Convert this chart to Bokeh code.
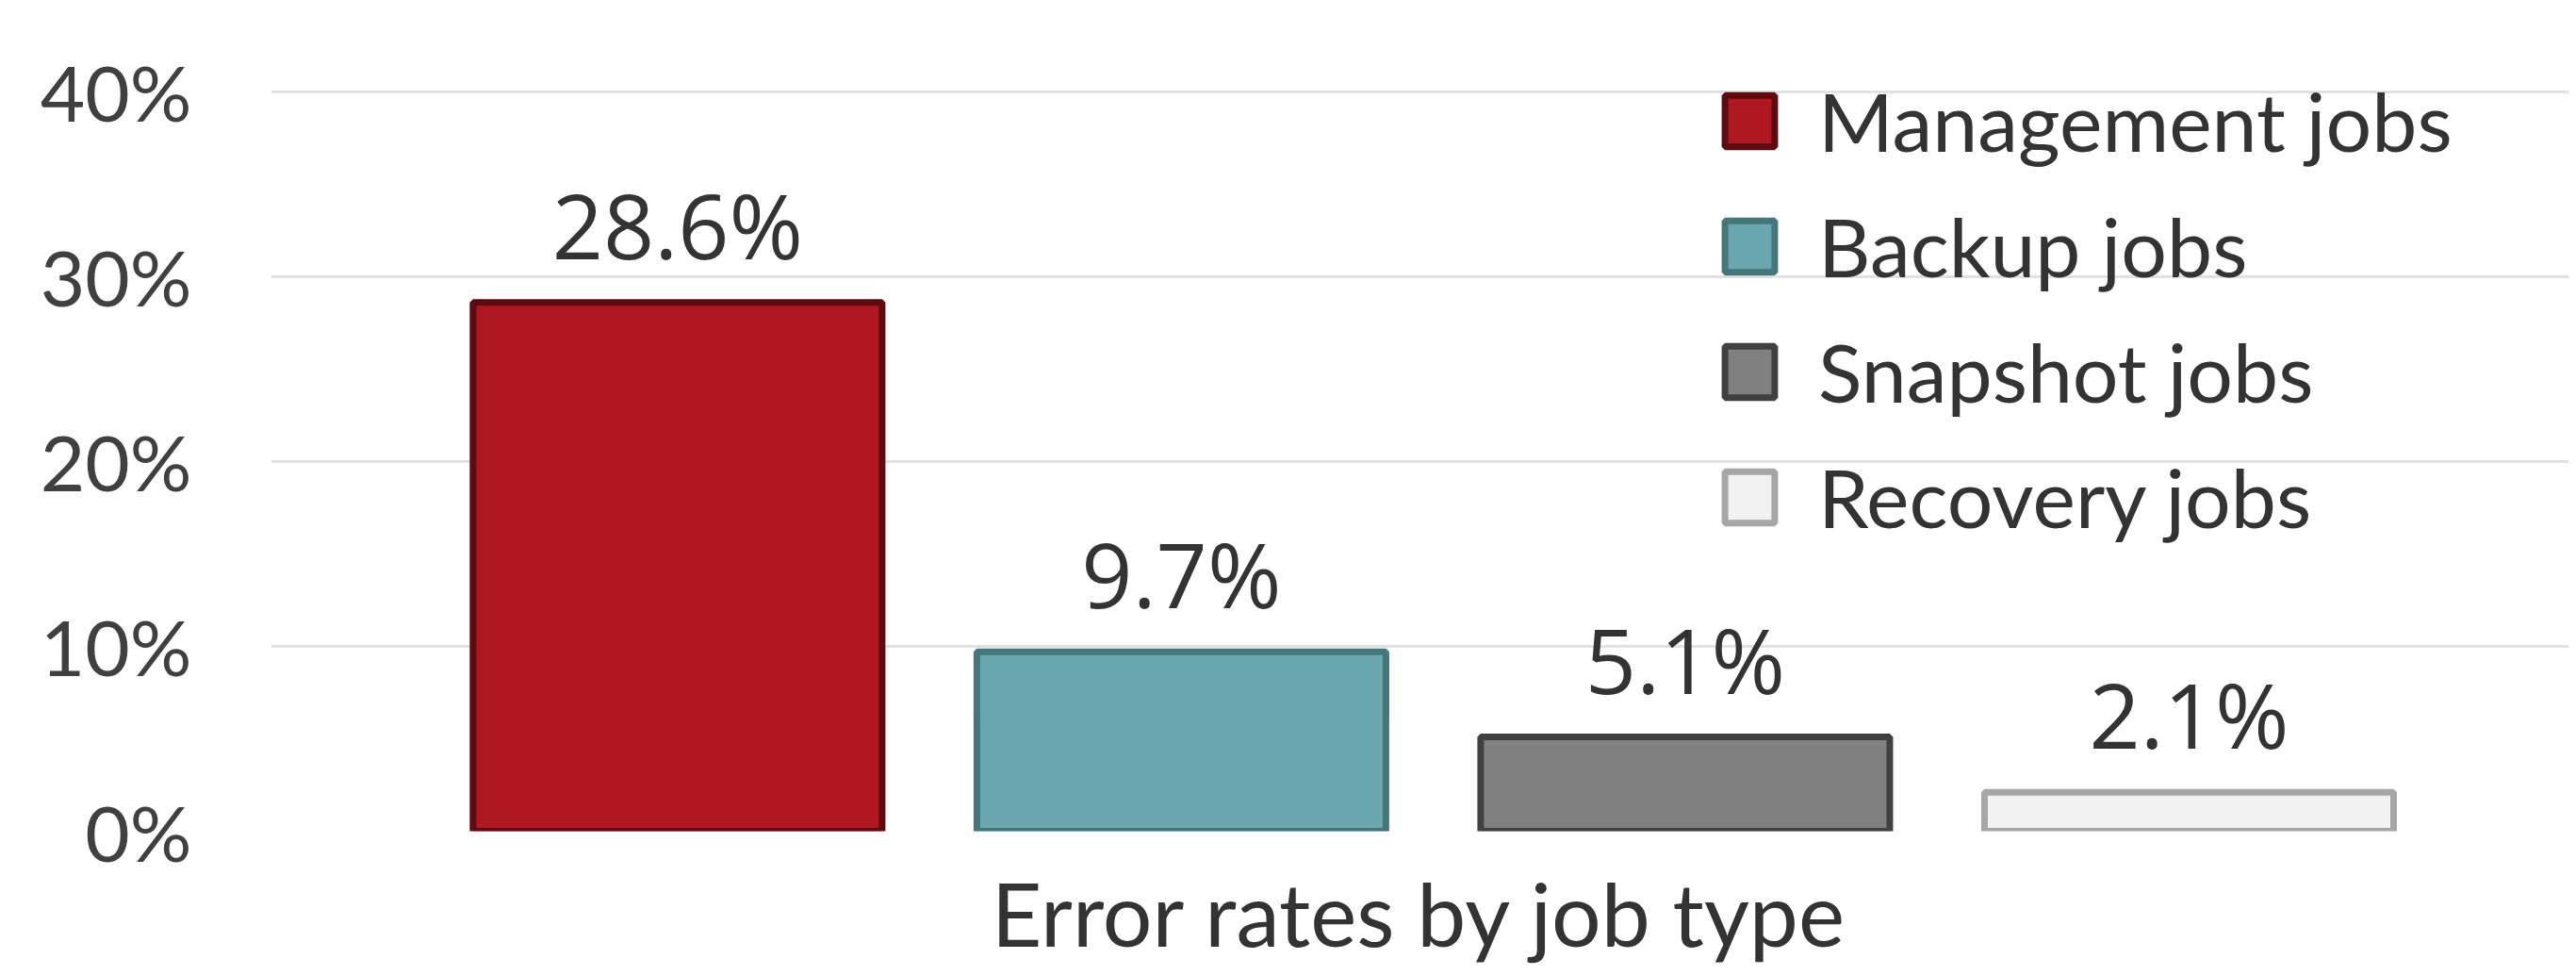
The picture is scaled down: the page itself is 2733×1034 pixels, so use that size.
from bokeh.plotting import figure
from bokeh.models import (Range1d, ColumnDataSource, Legend, LegendItem, FixedTicker,
                          LabelSet)
from bokeh.embed import file_html
from bokeh.resources import INLINE
from bokeh.core.properties import value

# ---- data ----
categories = ["Management jobs", "Backup jobs", "Snapshot jobs", "Recovery jobs"]
rates = [0.286, 0.097, 0.051, 0.021]
rate_labels = ["28.6%", "9.7%", "5.1%", "2.1%"]
y_ticks = [0, 0.1, 0.2, 0.3, 0.4]
y_tick_labels = ["0%", "10%", "20%", "30%", "40%"]
fill_colors = ["#AF1820", "#6AA6AD", "#808080", "#F2F2F2"]
line_colors = ["#5E0B10", "#44767B", "#404040", "#A6A6A6"]
x_title = "Error rates by job type"

TEXT = "#333333"
xs = list(range(len(categories)))

p = figure(width=2725, height=1026, output_backend="svg", toolbar_location=None,
           x_range=Range1d(-0.807, 3.754), y_range=Range1d(0, 0.4392),
           min_border_left=287, min_border_right=0, min_border_top=20,
           min_border_bottom=143)

p.outline_line_color = None
p.background_fill_color = "white"
p.border_fill_color = "white"

# grid
p.xgrid.visible = False
p.ygrid.ticker = FixedTicker(ticks=y_ticks)
p.ygrid.grid_line_color = "#E1E1E1"
p.ygrid.grid_line_width = 3

# y axis
p.yaxis.ticker = FixedTicker(ticks=y_ticks)
p.yaxis.major_label_overrides = {t: l for t, l in zip(y_ticks, y_tick_labels)}
p.yaxis.axis_line_color = None
p.yaxis.major_tick_line_color = None
p.yaxis.minor_tick_line_color = None
p.yaxis.major_tick_out = 0
p.yaxis.major_tick_in = 0
p.yaxis.major_label_standoff = 84
p.yaxis.major_label_text_font = "Lato"
p.yaxis.major_label_text_font_size = "82px"
p.yaxis.major_label_text_color = "#404040"

# x axis: title only
p.xaxis.ticker = FixedTicker(ticks=[])
p.xaxis.axis_line_color = None
p.xaxis.major_tick_line_color = None
p.xaxis.minor_tick_line_color = None
p.xaxis.major_tick_out = 0
p.xaxis.major_tick_in = 0
p.xaxis.major_label_standoff = 0
p.xaxis.axis_label = x_title
p.xaxis.axis_label_standoff = 30
p.xaxis.axis_label_text_font = "Lato"
p.xaxis.axis_label_text_font_style = "normal"
p.xaxis.axis_label_text_font_size = "93px"
p.xaxis.axis_label_text_color = TEXT

# bars
src = ColumnDataSource(dict(x=xs, top=rates, fill=fill_colors, line=line_colors,
                            cat=categories, lab=rate_labels))
r = p.vbar(x="x", top="top", width=0.812, source=src, fill_color="fill",
           line_color="line", line_width=7)

labels = LabelSet(x="x", y="top", text="lab", source=src, y_offset=46,
                  text_align="center", text_baseline="alphabetic",
                  text_font=value("Open Sans"), text_font_size="95px",
                  text_color=TEXT)
p.add_layout(labels)

items = [LegendItem(label=c, renderers=[r], index=i) for i, c in enumerate(categories)]
legend = Legend(items=items, location=(1536, 303), orientation="vertical",
                glyph_width=66, glyph_height=68, label_standoff=40, spacing=30,
                padding=0, margin=0, border_line_color=None,
                background_fill_alpha=0,
                label_text_font="Lato", label_text_font_size="86px",
                label_text_color=TEXT)
p.add_layout(legend)

open("out.html", "w").write(file_html(p, INLINE))
